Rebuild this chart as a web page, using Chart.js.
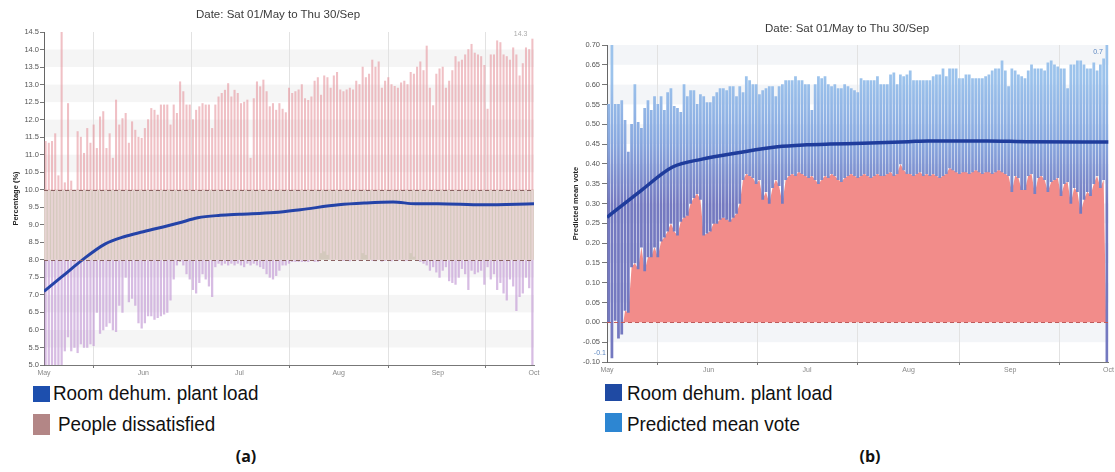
<!DOCTYPE html>
<html>
<head>
<meta charset="utf-8">
<script src="https://cdn.jsdelivr.net/npm/chart.js@4.4.1/dist/chart.umd.min.js"></script>
<style>
  body { margin: 0; width: 1115px; height: 472px; background: #fff; position: relative; overflow: hidden; font-family: "Liberation Sans", Arial, sans-serif; }
  .box { position: absolute; }
  .title { position: absolute; font-size: 11.5px; color: #3a3a3a; white-space: nowrap; transform: translate(-50%, -50%); }
  .key { position: absolute; width: 17px; }
  .ktxt { position: absolute; font-size: 20.5px; line-height: 1; color: #111; white-space: nowrap; transform: scaleX(0.92); transform-origin: left top; }
  .cap { position: absolute; font-family: "Open Sans", sans-serif; font-weight: 700; font-size: 16px; color: #111; transform: translate(-50%, -50%); }
</style>
</head>
<body>
<div class="box" style="left:0;top:0;width:545px;height:380px"><canvas id="chartA"></canvas></div>
<div class="box" style="left:560px;top:20px;width:555px;height:357px"><canvas id="chartB"></canvas></div>

<div class="title" style="left:278px;top:14px">Date: Sat 01/May to Thu 30/Sep</div>
<div class="title" style="left:847px;top:28px">Date: Sat 01/May to Thu 30/Sep</div>

<div class="key" style="left:33px;top:386px;height:16px;background:#1d4fae"></div>
<div class="ktxt" style="left:53px;top:383px">Room dehum. plant load</div>
<div class="key" style="left:33px;top:414px;height:21px;background:#b38686"></div>
<div class="ktxt" style="left:58px;top:414px">People dissatisfied</div>
<div class="cap" style="left:246px;top:456px">(a)</div>

<div class="key" style="left:605px;top:384px;height:17px;background:#1f4aa3"></div>
<div class="ktxt" style="left:627px;top:383px">Room dehum. plant load</div>
<div class="key" style="left:605px;top:413px;height:19px;background:#2d86d2"></div>
<div class="ktxt" style="left:627px;top:414px">Predicted mean vote</div>
<div class="cap" style="left:870px;top:456px">(b)</div>

<script>
const monthNames = ["May", "Jun", "Jul", "Aug", "Sep", "Oct"];
const monthStarts = [0, 31, 61, 92, 123, 153];

// (a) people dissatisfied, daily max / min (%)
const dissatMax = [
  11.38, 11.33, 11.38, 11.6, 10.4, 14.5, 10.2, 12.46, 10.25, 10.0,
  11.66, 11.5, 11.04, 11.75, 11.33, 11.85, 11.18, 12.08, 12.23, 11.18,
  11.6, 10.9, 12.56, 11.85, 12.03, 12.18, 11.33, 11.94, 11.7, 11.5, 11.47,
  11.75, 12.0, 12.32, 12.27, 12.13, 12.42, 12.42, 12.42, 11.85, 12.42,
  12.18, 13.08, 12.8, 12.42, 12.42, 12.0, 12.27, 12.37, 12.46, 12.42,
  12.42, 11.75, 12.42, 12.65, 12.75, 12.84, 13.03, 12.65, 12.84, 12.75,
  12.46, 12.5, 12.56, 10.9, 12.6, 13.08, 12.94, 13.13, 12.8, 12.37,
  12.46, 12.27, 12.46, 12.3, 12.2, 12.9, 12.75, 12.8, 12.85, 13.0,
  12.6, 12.55, 12.65, 13.1, 13.2, 12.7, 13.25, 13.2, 12.9, 13.25, 13.35,
  12.85, 12.8, 12.85, 12.9, 12.85, 13.1, 13.0, 13.5, 13.2, 13.3,
  13.7, 13.5, 13.65, 12.9, 13.1, 13.2, 13.0, 12.95, 12.9, 13.05,
  13.1, 13.0, 13.35, 13.3, 13.5, 13.65, 13.4, 14.1, 12.9, 12.4, 13.3,
  13.45, 13.5, 12.9, 13.1, 13.4, 13.8, 13.65, 13.7, 13.85, 14.0,
  14.15, 13.9, 13.85, 13.8, 13.55, 12.3, 13.85, 13.85, 14.25, 14.2,
  13.85, 13.8, 13.7, 14.05, 13.85, 13.25, 13.6, 14.05, 14.0, 14.3
];
const dissatMin = [
  5.0, 5.0, 5.0, 5.0, 5.0, 5.0, 5.4, 5.8, 5.4, 5.5,
  5.35, 5.6, 5.5, 5.5, 5.6, 5.55, 6.5, 5.9, 6.0, 6.1,
  6.2, 6.0, 5.95, 6.7, 6.5, 7.5, 6.8, 6.9, 6.7, 6.2, 6.05,
  6.2, 6.4, 6.4, 6.3, 6.35, 6.4, 6.45, 6.5, 6.85, 7.45,
  7.85, 7.95, 7.85, 7.6, 7.45, 7.15, 7.05, 7.35, 7.6, 7.45,
  7.25, 6.95, 7.8, 7.9, 7.85, 7.9, 7.85, 7.9, 7.85, 7.9,
  7.85, 7.8, 7.9, 7.85, 7.9, 7.85, 7.8, 7.75, 7.6, 7.5,
  7.45, 7.55, 7.7, 7.85, 7.85, 7.9, 7.95, 7.95, 7.95, 7.95,
  7.95, 7.95, 8.0, 7.95, 7.95, 8.2, 8.25, 8.15, 8.0, 8.0, 8.0,
  8.0, 7.98, 8.0, 7.97, 8.0, 8.0, 7.98, 8.2, 8.15, 8.0,
  7.98, 7.97, 8.0, 7.96, 7.98, 8.0, 7.97, 8.0, 7.98, 8.0,
  7.97, 7.98, 8.2, 8.1, 8.0, 7.95, 7.9, 7.85, 7.7, 7.8, 7.65,
  7.5, 7.7, 7.8, 7.4, 7.35, 7.3, 7.5, 7.75, 7.6, 7.15,
  7.7, 7.6, 7.65, 7.7, 7.3, 7.8, 7.45, 7.6, 7.15, 7.35,
  7.05, 6.85, 7.45, 7.25, 6.55, 6.95, 7.05, 7.5, 7.2, 5.0
];
const loadDaysA = [0, 6, 12, 19, 25, 31, 42, 48, 55, 61, 72, 80, 92, 100, 109, 116, 123, 137, 153];
const loadA = [7.1, 7.55, 8.0, 8.45, 8.66, 8.8, 9.05, 9.2, 9.27, 9.3, 9.35, 9.43, 9.57, 9.62, 9.65, 9.6, 9.6, 9.57, 9.6];

// (b) predicted mean vote, daily max / min
const pmvMax = [
  0.55, 0.70, 0.55, 0.55, 0.56, 0.51, 0.43, 0.50, 0.60, 0.505,
  0.49, 0.54, 0.56, 0.535, 0.57, 0.55, 0.57, 0.535, 0.58, 0.59,
  0.545, 0.54, 0.53, 0.60, 0.57, 0.585, 0.585, 0.55, 0.575, 0.57, 0.555,
  0.555, 0.57, 0.58, 0.59, 0.59, 0.585, 0.595, 0.595, 0.57, 0.595,
  0.58, 0.62, 0.61, 0.60, 0.60, 0.575, 0.585, 0.59, 0.595, 0.595,
  0.57, 0.595, 0.60, 0.61, 0.61, 0.61, 0.62, 0.61, 0.61, 0.60,
  0.60, 0.535, 0.60, 0.62, 0.615, 0.62, 0.60, 0.595, 0.60, 0.59,
  0.59, 0.60, 0.595, 0.59, 0.585, 0.58, 0.615, 0.61, 0.61, 0.61,
  0.61, 0.62, 0.60, 0.60, 0.60, 0.625, 0.63, 0.60, 0.625, 0.62, 0.625,
  0.635, 0.61, 0.61, 0.61, 0.61, 0.61, 0.61, 0.62, 0.625, 0.625,
  0.64, 0.62, 0.64, 0.64, 0.64, 0.615, 0.615, 0.625, 0.625, 0.615,
  0.615, 0.615, 0.615, 0.62, 0.625, 0.635, 0.64, 0.64, 0.66, 0.635, 0.595,
  0.64, 0.635, 0.625, 0.62, 0.615, 0.635, 0.65, 0.64, 0.64, 0.64,
  0.635, 0.655, 0.66, 0.65, 0.645, 0.64, 0.64, 0.59, 0.65, 0.65,
  0.66, 0.66, 0.65, 0.64, 0.64, 0.655, 0.635, 0.65, 0.665, 0.70
];
const pmvMin = [
  0.0, -0.09, 0.005, -0.04, -0.03, 0.03, 0.025, 0.14, 0.15, 0.135,
  0.19, 0.13, 0.165, 0.165, 0.19, 0.165, 0.205, 0.215, 0.23, 0.25,
  0.23, 0.22, 0.255, 0.265, 0.27, 0.30, 0.315, 0.325, 0.31, 0.22, 0.225,
  0.23, 0.25, 0.25, 0.26, 0.265, 0.26, 0.255, 0.265, 0.275, 0.30,
  0.36, 0.375, 0.37, 0.365, 0.35, 0.36, 0.31, 0.33, 0.30, 0.34,
  0.36, 0.345, 0.30, 0.36, 0.37, 0.375, 0.37, 0.38, 0.375, 0.37,
  0.365, 0.37, 0.36, 0.35, 0.36, 0.37, 0.365, 0.375, 0.37, 0.36,
  0.355, 0.365, 0.37, 0.375, 0.37, 0.365, 0.37, 0.375, 0.37, 0.365,
  0.37, 0.375, 0.37, 0.37, 0.375, 0.38, 0.37, 0.375, 0.40, 0.385, 0.375,
  0.375, 0.37, 0.375, 0.38, 0.37, 0.375, 0.37, 0.375, 0.37, 0.365,
  0.37, 0.375, 0.39, 0.385, 0.38, 0.375, 0.38, 0.38, 0.375, 0.38,
  0.385, 0.38, 0.375, 0.38, 0.38, 0.375, 0.38, 0.385, 0.38, 0.375, 0.37,
  0.33, 0.37, 0.365, 0.335, 0.335, 0.37, 0.375, 0.325, 0.365, 0.37,
  0.36, 0.33, 0.355, 0.36, 0.365, 0.32, 0.35, 0.355, 0.30, 0.34,
  0.33, 0.275, 0.31, 0.33, 0.32, 0.35, 0.37, 0.34, 0.36, -0.10
];
const loadDaysB = [0, 10, 20, 29, 40, 52, 61, 68, 78, 92, 98, 116, 128, 153];
const loadB = [0.265, 0.33, 0.392, 0.412, 0.428, 0.443, 0.448, 0.45, 0.452, 0.456, 0.458, 0.458, 0.456, 0.455];

Chart.defaults.font.family = '"Liberation Sans", Arial, sans-serif';

const pts = (xs, ys) => xs.map((x, i) => ({ x: x, y: ys[i] }));

// piece of each day's bar that falls between lo and hi
const segA = (lo, hi) => dissatMax.flatMap((mx, i) => {
  const a = Math.max(dissatMin[i], lo);
  const b = Math.min(mx, hi);
  return b > a ? [{ x: i + 0.5, y: [a, b] }] : [];
});

const deco = {
  id: "deco",
  beforeDraw(chart, args, o) {
    const { ctx, chartArea: a, scales: { y } } = chart;
    ctx.save();
    ctx.fillStyle = o.stripe;
    y.ticks.forEach((t, i) => {
      if (i % 2 === 1 && i + 1 < y.ticks.length) {
        const top = y.getPixelForValue(y.ticks[i + 1].value);
        ctx.fillRect(a.left, top, a.width, y.getPixelForValue(t.value) - top);
      }
    });
    ctx.restore();
  },
  beforeDatasetsDraw(chart, args, o) {
    if (!o.band) return;
    const { ctx, chartArea: a, scales: { y } } = chart;
    const top = y.getPixelForValue(o.band[1]);
    ctx.save();
    ctx.fillStyle = o.bandColor;
    ctx.fillRect(a.left, top, a.width, y.getPixelForValue(o.band[0]) - top);
    ctx.restore();
  },
  afterDatasetsDraw(chart, args, o) {
    const { ctx, chartArea: a, scales: { x, y } } = chart;
    ctx.save();
    ctx.strokeStyle = o.dashColor;
    ctx.lineWidth = 1;
    ctx.setLineDash([4, 3]);
    o.dashes.forEach(v => {
      const py = Math.round(y.getPixelForValue(v)) + 0.5;
      ctx.beginPath();
      ctx.moveTo(a.left, py);
      ctx.lineTo(a.right, py);
      ctx.stroke();
    });
    ctx.setLineDash([]);
    ctx.font = '7px "Liberation Sans", Arial, sans-serif';
    ctx.fillStyle = o.noteColor;
    ctx.textAlign = "right";
    ctx.textBaseline = "middle";
    o.notes.forEach(n => {
      ctx.fillText(n.value.toFixed(1), x.getPixelForValue(n.day) + n.dx, y.getPixelForValue(n.value) + n.dy);
    });
    ctx.restore();
  }
};

const monthAxis = (height) => ({
  type: "linear",
  min: 0,
  max: 153,
  offset: false,
  afterBuildTicks: s => { s.ticks = monthStarts.map(v => ({ value: v })); },
  afterFit: s => { s.height = height; },
  ticks: {
    autoSkip: false,
    maxRotation: 0,
    padding: 1,
    color: "#888",
    font: { size: 7 },
    callback: v => monthNames[monthStarts.indexOf(v)]
  },
  grid: { color: "#e2e2e2", tickLength: 3, tickColor: "#777" },
  border: { color: "#777" }
});

new Chart(document.getElementById("chartA"), {
  type: "bar",
  data: {
    datasets: [
      {
        type: "line",
        label: "Room dehum. plant load",
        data: pts(loadDaysA, loadA),
        borderColor: "#2443a8",
        borderWidth: 3,
        pointRadius: 0,
        cubicInterpolationMode: "monotone",
        order: 0
      },
      { label: "People dissatisfied", data: segA(10, 99), backgroundColor: "rgba(228,140,150,0.55)", barThickness: 1.4, grouped: false, order: 1 },
      { data: segA(8, 10), backgroundColor: "rgba(232,212,212,0.95)", barThickness: 1.4, grouped: false, order: 2 },
      { data: segA(0, 8), backgroundColor: "rgba(194,152,212,0.65)", barThickness: 1.6, grouped: false, order: 3 }
    ]
  },
  options: {
    responsive: true,
    maintainAspectRatio: false,
    animation: false,
    layout: { padding: { top: 32, right: 11, left: 0, bottom: 0 } },
    plugins: {
      legend: { display: false },
      tooltip: { enabled: false },
      deco: {
        stripe: "#f5f5f5",
        band: [8, 10],
        bandColor: "#d4c9bd",
        dashes: [8, 10],
        dashColor: "#8a6262",
        noteColor: "#aaa",
        notes: [{ day: 152.5, value: dissatMax[152], dx: -5, dy: -5 }]
      }
    },
    scales: {
      x: monthAxis(15),
      y: {
        min: 5,
        max: 14.5,
        afterFit: s => { s.width = 44; },
        ticks: { stepSize: 0.5, autoSkip: false, padding: 1, color: "#555", font: { size: 7.5 }, callback: v => v.toFixed(1) },
        grid: { drawOnChartArea: false, tickLength: 4, color: "#777" },
        border: { color: "#666" },
        title: { display: true, text: "Percentage (%)", color: "#222", font: { size: 7.5, weight: "bold" }, padding: { top: 11, bottom: 0 } }
      }
    }
  },
  plugins: [deco]
});

function pmvFill(c) {
  const chart = c.chart;
  if (!chart.chartArea) return "#8ab0e0";
  const y = chart.scales.y;
  const g = chart.ctx.createLinearGradient(0, y.getPixelForValue(0.62), 0, y.getPixelForValue(0.3));
  g.addColorStop(0, "#9cc3ec");
  g.addColorStop(0.5, "#89a9e0");
  g.addColorStop(1, "#7479c0");
  return g;
}

new Chart(document.getElementById("chartB"), {
  type: "bar",
  data: {
    datasets: [
      {
        type: "line",
        label: "Room dehum. plant load",
        data: pts(loadDaysB, loadB),
        borderColor: "#1f3c9c",
        borderWidth: 3.5,
        pointRadius: 0,
        cubicInterpolationMode: "monotone",
        order: 0
      },
      {
        label: "Predicted mean vote",
        data: pmvMax.map((mx, i) => ({ x: i + 0.5, y: [pmvMin[i], mx] })),
        backgroundColor: pmvFill,
        barThickness: 2.1,
        grouped: false,
        order: 1
      },
      {
        type: "line",
        data: pmvMin.map((v, i) => ({ x: i + 0.5, y: v })),
        borderWidth: 0,
        borderColor: "rgba(0,0,0,0)",
        pointRadius: 0,
        fill: { target: "origin", above: "#f28c8a", below: "rgba(0,0,0,0)" },
        order: 2
      }
    ]
  },
  options: {
    responsive: true,
    maintainAspectRatio: false,
    animation: false,
    layout: { padding: { top: 25, right: 6, left: 0, bottom: 0 } },
    plugins: {
      legend: { display: false },
      tooltip: { enabled: false },
      deco: {
        stripe: "#f3f5f8",
        dashes: [0],
        dashColor: "#c05a5a",
        noteColor: "#5b86c0",
        notes: [
          { day: 152.5, value: pmvMax[152], dx: -4, dy: 7 },
          { day: 1.5, value: pmvMin[1], dx: -6, dy: -5 }
        ]
      }
    },
    scales: {
      x: monthAxis(15),
      y: {
        min: -0.1,
        max: 0.7,
        afterFit: s => { s.width = 47; },
        ticks: {
          stepSize: 0.05,
          autoSkip: false,
          padding: 2,
          color: "#555",
          font: { size: 7.5 },
          callback: v => (Math.abs(v) < 1e-9 ? 0 : v).toFixed(2)
        },
        grid: { drawOnChartArea: false, tickLength: 5, color: "#777" },
        border: { color: "#666" },
        title: { display: true, text: "Predicted mean vote", color: "#222", font: { size: 7.5, weight: "bold" }, padding: { top: 11, bottom: 0 } }
      }
    }
  },
  plugins: [deco]
});
</script>
</body>
</html>
